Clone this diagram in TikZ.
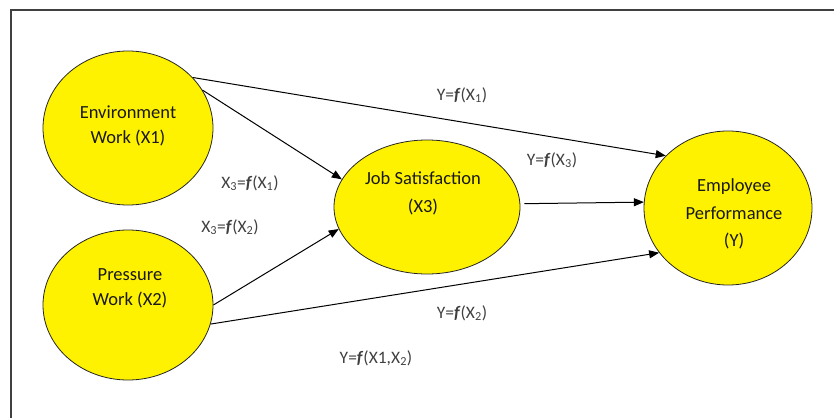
\documentclass[tikz,border=0pt]{standalone}
\usepackage{fontspec}
\setmainfont{Carlito}
\usetikzlibrary{shapes.geometric,arrows.meta}
\begin{document}
\begin{tikzpicture}[x=1pt,y=-1pt,
  var/.style={draw=black!85,line width=0.8pt,fill=yellow,ellipse,inner sep=0pt},
  vtext/.style={align=center,font=\fontsize{18.5}{25}\selectfont,text=black!90},
  flabel/.style={font=\fontsize{17.5}{18}\selectfont,text=black!75,inner sep=1pt},
  conn/.style={draw=black,line width=1pt,-{Triangle[length=10pt,width=8pt]}}]
\useasboundingbox (0,0) rectangle (834,417);
\draw[line width=1.6pt,draw=black!75] (11,430) -- (11,10) -- (850,10);
% ellipses
\node[var,minimum width=170pt,minimum height=154pt] (e1) at (128,128) {};
\node[var,minimum width=170pt,minimum height=150pt] (e2) at (128,305) {};
\node[var,minimum width=186pt,minimum height=134pt] (e3) at (427,207) {};
\node[var,minimum width=168pt,minimum height=154pt] (e4) at (728,208) {};
% texts
\node[vtext] (t1) at (128,126) {Environment\\Work (X1)};
\node[vtext] (t2) at (130,288) {Pressure\\Work (X2)};
\node[vtext,font=\fontsize{18.5}{28}\selectfont] (t3) at (423,193) {Job Satisfaction\\(X3)};
\node[vtext,font=\fontsize{18.5}{27.5}\selectfont] (t4) at (734,214) {Employee\\Performance\\(Y)};
% connectors
\draw[conn] (e1.38) -- (e4.140.7);
\draw[conn] (e1.27.8) -- (e3.162.8);
\draw[conn] (e2.0.7) -- (e3.194.8);
\draw[conn] (e2.-13) -- (e4.213.5);
\draw[conn,shorten <=4pt] (e3.2.4) -- (e4.176.6);
% labels
\node[flabel] (l1) at (462,95) {Y=\textbf{\textit{f}}(X\textsubscript{1})};
\node[flabel] (l2) at (552,160) {Y=\textbf{\textit{f}}(X\textsubscript{3})};
\node[flabel] (l3) at (250,183) {X\textsubscript{3}=\textbf{\textit{f}}(X\textsubscript{1})};
\node[flabel] (l4) at (230,227) {X\textsubscript{3}=\textbf{\textit{f}}(X\textsubscript{2})};
\node[flabel] (l5) at (376,358) {Y=\textbf{\textit{f}}(X1,X\textsubscript{2})};
\node[flabel] (l6) at (462,313) {Y=\textbf{\textit{f}}(X\textsubscript{2})};
\end{tikzpicture}
\end{document}
